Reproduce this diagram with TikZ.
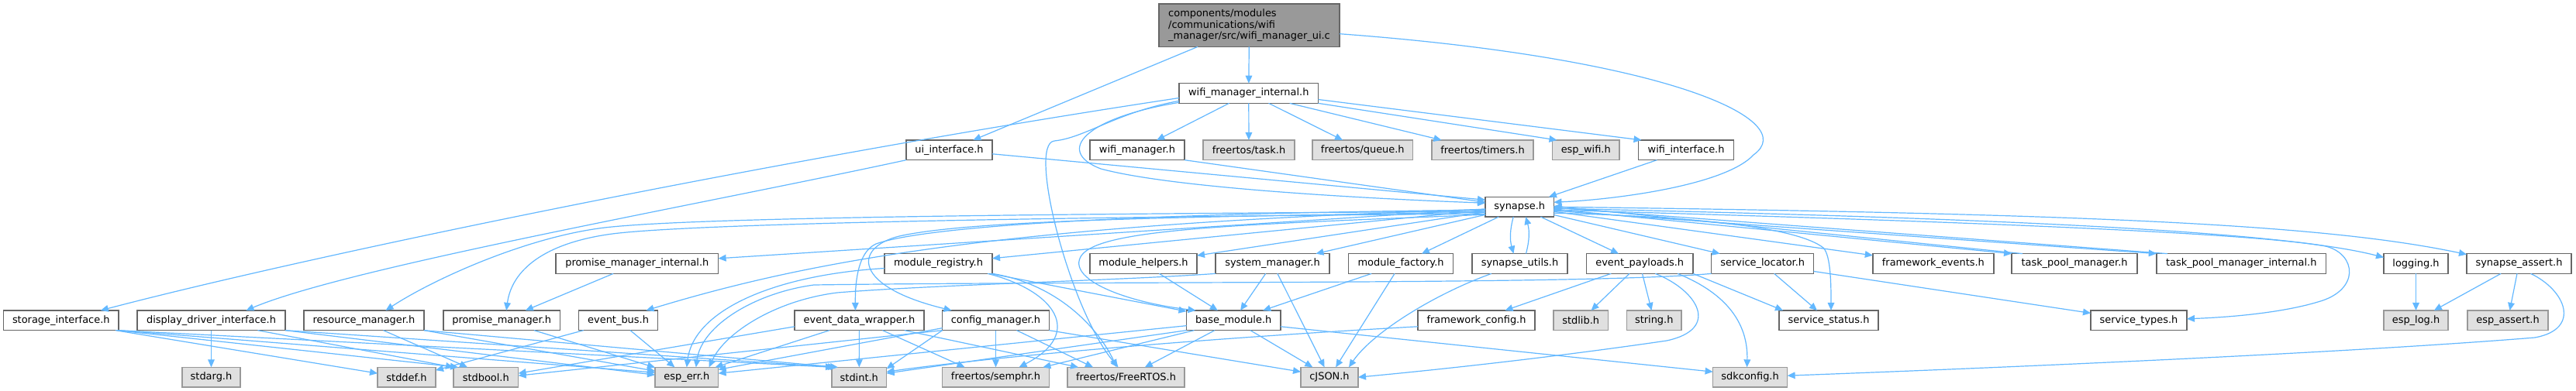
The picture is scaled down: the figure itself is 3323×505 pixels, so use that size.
\documentclass[tikz,border=0pt]{standalone}
\usepackage{fontspec}
\setmainfont{DejaVu Sans}
\usetikzlibrary{arrows.meta,calc}
\definecolor{edgec}{HTML}{63B8FF}
\definecolor{gA}{HTML}{666666}
\definecolor{gB}{HTML}{999999}
\definecolor{gC}{HTML}{E0E0E0}
\newcommand\dxfont{\fontsize{9.7}{10.9}\selectfont}
\tikzset{
 fnode/.style={draw=gA, fill=white, line width=1.1pt, inner sep=0pt, outer sep=0pt, minimum height=19.3pt, font=\dxfont, text=black},
 gnode/.style={fnode, draw=gB, fill=gC},
 rootnode/.style={fnode, draw=gA, fill=gB, minimum height=41.5pt, align=left},
 dep/.style={draw=edgec, line width=0.9pt, -{Triangle[length=7.5pt,width=6.5pt]}},
}
\begin{document}
\begin{tikzpicture}[x=0.75pt,y=-0.75pt]
\useasboundingbox (0,0) rectangle (3323,505);
\fill[white] (0,0) rectangle (3323,505);
% row 0
\node[rootnode, minimum width=174.75pt] (wmui) at (1611.5,32.7) {components/modules\\/communications/wifi\\\_manager/src/wifi\_manager\_ui.c};
% row 1
\node[fnode, minimum width=134.6pt] (wmi) at (1610.75,120.5) {wifi\_manager\_internal.h};
% row 2
\node[fnode, minimum width=83.25pt] (ui) at (1224.5,193.8) {ui\_interface.h};
\node[fnode, minimum width=91.5pt] (wifi_manager) at (1467,193.8) {wifi\_manager.h};
\node[gnode, minimum width=88.5pt] (task) at (1611,193.8) {freertos/task.h};
\node[gnode, minimum width=97.2pt] (queue) at (1757.8,193.8) {freertos/queue.h};
\node[gnode, minimum width=98.25pt] (timers) at (1912.5,193.8) {freertos/timers.h};
\node[gnode, minimum width=64.9pt] (esp_wifi) at (2045.75,193.8) {esp\_wifi.h};
\node[fnode, minimum width=92.4pt] (wifi_interface) at (2175.1,193.8) {wifi\_interface.h};
% row 3
\node[fnode, minimum width=66.3pt] (synapse) at (1960.2,267.2) {synapse.h};
% row 4
\node[fnode, minimum width=157.2pt] (pmi) at (821.8,340.5) {promise\_manager\_internal.h};
\node[fnode, minimum width=104.25pt] (module_registry) at (1210.5,340.5) {module\_registry.h};
\node[fnode, minimum width=103.5pt] (module_helpers) at (1475,340.5) {module\_helpers.h};
\node[fnode, minimum width=110.25pt] (system_manager) at (1641.5,340.5) {system\_manager.h};
\node[fnode, minimum width=101.25pt] (module_factory) at (1807.1,340.5) {module\_factory.h};
\node[fnode, minimum width=92.25pt] (synapse_utils) at (1960.5,340.5) {synapse\_utils.h};
\node[fnode, minimum width=103.1pt] (event_payloads) at (2115.25,340.5) {event\_payloads.h};
\node[fnode, minimum width=99pt] (service_locator) at (2273.7,340.5) {service\_locator.h};
\node[fnode, minimum width=117.15pt] (framework_events) at (2493.9,340.5) {framework\_events.h};
\node[fnode, minimum width=121.5pt] (tpm) at (2676,340.5) {task\_pool\_manager.h};
\node[fnode, minimum width=164.2pt] (tpmi) at (2891.25,340.5) {task\_pool\_manager\_internal.h};
\node[fnode, minimum width=62.25pt] (logging) at (3116.5,340.5) {logging.h};
\node[fnode, minimum width=101.25pt] (synapse_assert) at (3249.5,340.5) {synapse\_assert.h};
% row 5
\node[fnode, minimum width=111.3pt] (storage) at (78.8,413.8) {storage\_interface.h};
\node[fnode, minimum width=143.25pt] (display) at (272.5,413.8) {display\_driver\_interface.h};
\node[fnode, minimum width=116.25pt] (resource) at (469.5,413.8) {resource\_manager.h};
\node[fnode, minimum width=113.1pt] (promise_manager) at (647.2,413.8) {promise\_manager.h};
\node[fnode, minimum width=76.35pt] (event_bus) at (797.6,413.8) {event\_bus.h};
\node[fnode, minimum width=125.1pt] (edw) at (1108.4,413.8) {event\_data\_wrapper.h};
\node[fnode, minimum width=103.35pt] (config_manager) at (1284.5,413.8) {config\_manager.h};
\node[fnode, minimum width=91.1pt] (base_module) at (1591.25,413.8) {base\_module.h};
\node[fnode, minimum width=113.25pt] (framework_config) at (1904.5,413.8) {framework\_config.h};
\node[gnode, minimum width=52.8pt] (stdlib) at (2039.2,413.8) {stdlib.h};
\node[gnode, minimum width=52.9pt] (string) at (2133.75,413.8) {string.h};
\node[fnode, minimum width=96pt] (service_status) at (2359,413.8) {service\_status.h};
\node[fnode, minimum width=93pt] (service_types) at (2759,413.8) {service\_types.h};
\node[gnode, minimum width=62.25pt] (esp_log) at (3116.5,413.8) {esp\_log.h};
\node[gnode, minimum width=78pt] (esp_assert) at (3235,413.8) {esp\_assert.h};
% row 6
\node[gnode, minimum width=56.25pt] (stdarg) at (272.5,487.2) {stdarg.h};
\node[gnode, minimum width=56.25pt] (stddef) at (524.5,487.2) {stddef.h};
\node[gnode, minimum width=62.7pt] (stdbool) at (626.8,487.2) {stdbool.h};
\node[gnode, minimum width=61.2pt] (esp_err) at (885.8,487.2) {esp\_err.h};
\node[gnode, minimum width=52.95pt] (stdint) at (1108.3,487.2) {stdint.h};
\node[gnode, minimum width=103.35pt] (semphr) at (1284.5,487.2) {freertos/semphr.h};
\node[gnode, minimum width=113.25pt] (FreeRTOS) at (1452.5,487.2) {freertos/FreeRTOS.h};
\node[gnode, minimum width=55.5pt] (cJSON) at (1715,487.2) {cJSON.h};
\node[gnode, minimum width=72pt] (sdkconfig) at (2257.6,487.2) {sdkconfig.h};

% ---- edges: top
\draw[dep] (wmui) -- (wmi);
\draw[dep] (wmui) -- (ui);
\draw[dep] ($(wmui.east)+(0,11)$) .. controls (2150,75) and (2325,155) .. (2262,200) .. controls (2225,240) and (2080,258) .. ($(synapse.east)+(0,-6)$);
% wmi
\draw[dep] (wmi) -- (wifi_manager);
\draw[dep] (wmi) -- (task);
\draw[dep] (wmi) -- (queue);
\draw[dep] (wmi) -- (timers);
\draw[dep] (wmi.south east) -- ($(esp_wifi.north west)+(6,0)$);
\draw[dep] ($(wmi.east)+(0,8)$) -- ($(wifi_interface.north west)+(4,0)$);
\draw[dep] ($(wmi.south west)+(0,-1)$) .. controls (1400,152) and (1360,195) .. (1420,218) .. controls (1520,245) and (1800,258) .. ($(synapse.west)+(0,-5)$);
\draw[dep] ($(wmi.south west)+(0,-3)$) .. controls (1440,145) and (1400,178) .. (1360,182) .. controls (1325,186) and (1380,400) .. ($(FreeRTOS.north)+(-10,0)$);
\draw[dep] ($(wmi.west)+(0,6)$) .. controls (1000,205) and (400,330) .. ($(storage.north)+(51,0)$);
% ui, wifi_manager, wifi_interface
\draw[dep] (ui.south west) .. controls (900,265) and (450,345) .. ($(display.north)+(45,0)$);
\draw[dep] ($(ui.east)+(0,5)$) -- ($(synapse.west)+(0,-9)$);
\draw[dep] (wifi_manager.south east) -- ($(synapse.west)+(0,-6)$);
\draw[dep] (wifi_interface) -- (synapse);
% synapse -> row 4
\draw[dep] (synapse) -- (pmi);
\draw[dep] (synapse) -- (module_registry);
\draw[dep] (synapse) -- (module_helpers);
\draw[dep] (synapse) -- (system_manager);
\draw[dep] (synapse) -- (module_factory);
\draw[dep] ($(synapse.south)+(-8,0)$) to[bend right=15] ($(synapse_utils.north)+(-8,0)$);
\draw[dep] ($(synapse_utils.north)+(8,0)$) to[bend right=15] ($(synapse.south)+(8,0)$);
\draw[dep] (synapse) -- (event_payloads);
\draw[dep] (synapse) -- (service_locator);
\draw[dep] (synapse) -- (framework_events);
\draw[dep] ($(synapse.east)+(0,3)$) -- (tpm.north west);
\draw[dep] ($(tpm.north west)+(14,0)$) -- ($(synapse.east)+(0,-1)$);
\draw[dep] ($(synapse.east)+(0,5)$) -- (tpmi.north west);
\draw[dep] ($(tpmi.north west)+(14,0)$) -- ($(synapse.east)+(0,1)$);
\draw[dep] ($(synapse.east)+(0,2)$) .. controls (2600,282) and (2950,300) .. ($(logging.west)+(0,-8)$);
\draw[dep] (synapse.east) .. controls (2700,276) and (3000,290) .. ($(synapse_assert.north west)+(0,1)$);
\draw[dep] ($(synapse.east)+(0,4)$) .. controls (2500,285) and (2900,300) .. (3000,318) .. controls (3040,328) and (3045,375) .. (2990,390) .. controls (2940,405) and (2870,410) .. ($(service_types.east)+(0,-2)$);
\draw[dep] ($(synapse.east)+(0,8)$) .. controls (2200,280) and (2320,295) .. (2352,320) .. controls (2362,330) and (2362,370) .. ($(service_status.north)+(3,0)$);
% synapse -> row 5 (left)
\draw[dep] ($(synapse.west)+(0,6)$) .. controls (1400,276) and (900,280) .. (780,294) .. controls (680,306) and (560,360) .. ($(resource.north)+(28,0)$);
\draw[dep] ($(synapse.west)+(0,9)$) .. controls (1400,280) and (900,288) .. (790,302) .. controls (700,314) and (660,350) .. ($(promise_manager.north)+(6,0)$);
\draw[dep] ($(synapse.west)+(0,3)$) .. controls (1300,290) and (1050,335) .. ($(event_bus.north east)+(-15,0)$);
\draw[dep] ($(synapse.west)+(0,4)$) .. controls (1500,275) and (1200,290) .. (1130,315) .. controls (1108,325) and (1103,360) .. ($(edw.north)+(-5,0)$);
\draw[dep] ($(synapse.west)+(0,7)$) .. controls (1500,280) and (1250,285) .. (1160,305) .. controls (1100,320) and (1100,370) .. ($(config_manager.north west)+(12,0)$);
\draw[dep] ($(synapse.west)+(0,10)$) .. controls (1600,290) and (1420,295) .. (1395,330) .. controls (1375,360) and (1450,390) .. ($(base_module.north west)+(12,0)$);
% row 4 sources
\draw[dep] (pmi) -- (promise_manager);
\draw[dep] (module_registry) -- (base_module);
\draw[dep] ($(module_registry.south east)+(-6,0)$) .. controls (1360,375) and (1400,430) .. ($(semphr.north)+(30,0)$);
\draw[dep] (module_registry.south east) .. controls (1370,368) and (1420,430) .. ($(FreeRTOS.north)+(-12,0)$);
\draw[dep] ($(module_registry.west)+(0,6)$) .. controls (1000,355) and (895,400) .. (esp_err.north);
\draw[dep] (module_helpers) -- (base_module);
\draw[dep] (system_manager) -- (base_module);
\draw[dep] (system_manager) -- (cJSON);
\draw[dep] (system_manager.south west) .. controls (1450,362) and (1200,368) .. (1080,378) .. controls (1000,388) and (935,430) .. ($(esp_err.north east)+(-12,0)$);
\draw[dep] (service_locator.south west) .. controls (2050,368) and (1400,363) .. (1050,368) .. controls (975,378) and (905,420) .. ($(esp_err.north)+(12,0)$);
\draw[dep] (module_factory) -- (base_module);
\draw[dep] (module_factory) -- (cJSON);
\draw[dep] ($(synapse_utils.south west)+(25,0)$) .. controls (1850,380) and (1770,430) .. ($(cJSON.north east)+(-12,0)$);
\draw[dep] (event_payloads) -- (framework_config);
\draw[dep] (event_payloads) -- (stdlib);
\draw[dep] (event_payloads) -- (string);
\draw[dep] ($(event_payloads.south)+(20,0)$) .. controls (2190,375) and (2220,425) .. (2150,440) .. controls (2000,462) and (1850,478) .. (cJSON.east);
\draw[dep] ($(event_payloads.south east)+(-20,0)$) .. controls (2230,380) and (2255,420) .. ($(sdkconfig.north)+(-4,0)$);
\draw[dep] (event_payloads.south east) -- ($(service_status.north west)+(5,0)$);
\draw[dep] (service_locator) -- (service_status);
\draw[dep] (service_locator) -- (service_types);
\draw[dep] (logging) -- (esp_log);
\draw[dep] (synapse_assert) -- (esp_log);
\draw[dep] (synapse_assert) -- (esp_assert);
\draw[dep] ($(synapse_assert.south)+(15,0)$) .. controls (3310,375) and (3330,425) .. (3270,436) .. controls (3000,458) and (2500,478) .. ($(sdkconfig.east)+(0,-2)$);
% row 5 -> row 6
\draw[dep] ($(storage.south east)+(-4,0)$) -- ($(stddef.west)+(0,-5)$);
\draw[dep] ($(storage.south east)+(-2,0)$) -- ($(stdbool.north west)+(6,0)$);
\draw[dep] (storage.south east) -- ($(esp_err.west)+(0,-6)$);
\draw[dep] (storage.south east) -- ($(stdint.north west)+(2,0)$);
\draw[dep] (display) -- (stdarg);
\draw[dep] ($(display.south)+(60,0)$) -- (stdbool.north west);
\draw[dep] (display.south east) -- ($(esp_err.west)+(0,-3)$);
\draw[dep] (display.south east) -- ($(stdint.north west)+(5,0)$);
\draw[dep] ($(resource.south)+(25,0)$) -- ($(stdbool.north west)+(18,0)$);
\draw[dep] (resource.south east) -- ($(esp_err.west)+(0,-8)$);
\draw[dep] (resource.south east) -- ($(stdint.north west)+(8,0)$);
\draw[dep] (promise_manager) -- (esp_err);
\draw[dep] (event_bus) -- (esp_err);
\draw[dep] ($(event_bus.south west)+(6,0)$) -- ($(stddef.east)+(0,-9)$);
\draw[dep] (edw) -- (stdint);
\draw[dep] ($(edw.south west)+(45,0)$) -- ($(esp_err.north east)+(-4,0)$);
\draw[dep] ($(edw.west)+(0,8)$) -- ($(stdbool.east)+(0,-5)$);
\draw[dep] ($(edw.south)+(30,0)$) -- ($(semphr.north)+(-40,0)$);
\draw[dep] ($(edw.south east)+(-25,0)$) -- ($(FreeRTOS.north west)+(14,0)$);
\draw[dep] (config_manager) -- (semphr);
\draw[dep] ($(config_manager.south)+(27,0)$) -- ($(FreeRTOS.north west)+(33,0)$);
\draw[dep] (config_manager.south east) -- ($(cJSON.west)+(0,-7)$);
\draw[dep] ($(config_manager.south west)+(0,-3)$) -- ($(esp_err.north east)+(0,3)$);
\draw[dep] (config_manager.south west) -- ($(stdint.north east)+(0,2)$);
\draw[dep] (config_manager.south west) -- ($(stdbool.east)+(0,-2)$);
\draw[dep] (base_module) -- (FreeRTOS);
\draw[dep] (base_module) -- (cJSON);
\draw[dep] ($(base_module.south west)+(10,0)$) -- ($(semphr.north east)+(-8,0)$);
\draw[dep] ($(base_module.east)+(0,8)$) -- ($(sdkconfig.west)+(0,-7)$);
\draw[dep] ($(base_module.south west)+(0,-6)$) -- ($(esp_err.east)+(0,-5)$);
\draw[dep] (base_module.south west) -- ($(stdint.east)+(0,-5)$);
\draw[dep] ($(framework_config.west)+(0,8)$) .. controls (1500,440) and (1250,465) .. ($(stdint.east)+(0,-7)$);
\end{tikzpicture}
\end{document}
